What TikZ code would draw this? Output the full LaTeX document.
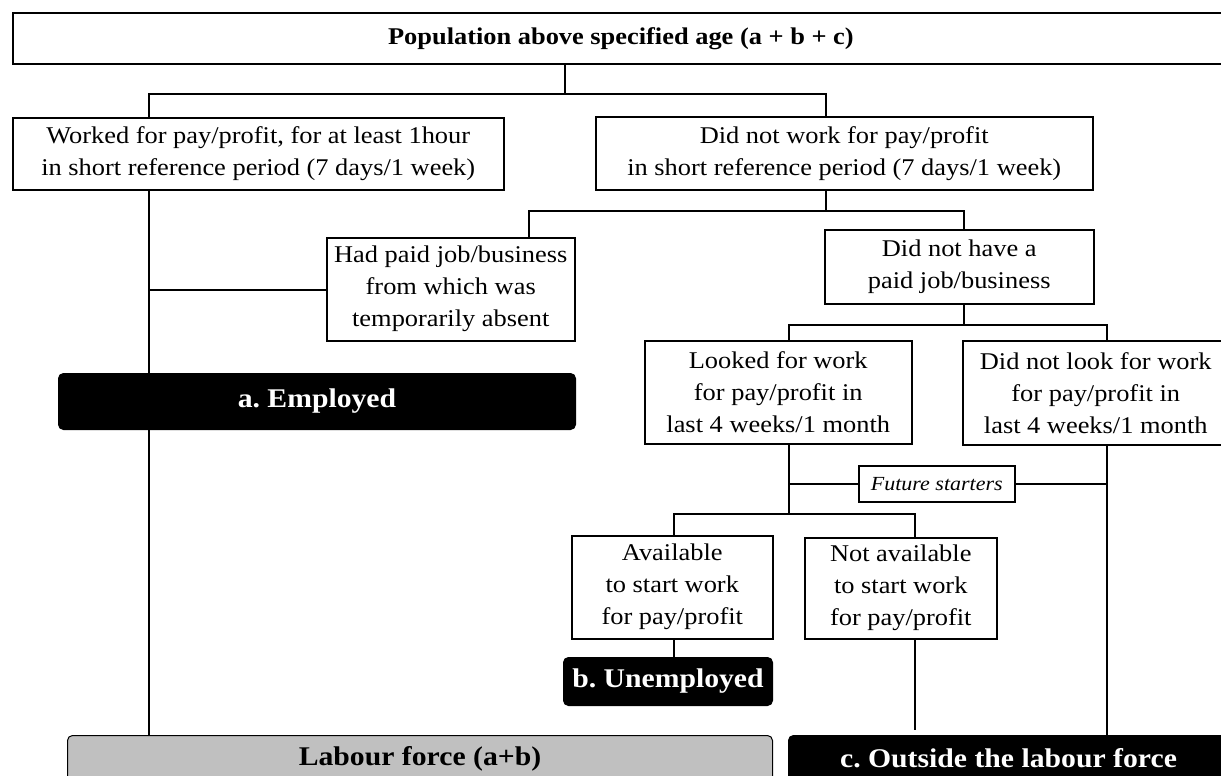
\documentclass[tikz,border=0pt]{standalone}
\usepackage{fontspec}
\setmainfont[FakeStretch=1.1]{Liberation Serif}
\definecolor{lfgray}{RGB}{192,192,192}
\frenchspacing
\begin{document}
\begin{tikzpicture}[x=1pt,y=-1pt,
  box/.style={draw=black, line width=1.5pt, fill=white, inner sep=0pt, align=center, anchor=north west,
    font=\frenchspacing\fontsize{24}{32}\selectfont},
  toplabel/.style={box, line width=1.8pt, font=\frenchspacing\bfseries\fontsize{24}{30}\selectfont},
  blackbox/.style={draw=black, line width=1pt, fill=black, text=white, rounded corners=5pt, inner sep=0pt,
    anchor=north west, font=\frenchspacing\bfseries\fontsize{27}{32}\selectfont},
  graybox/.style={blackbox, fill=lfgray, text=black},
  futbox/.style={box, line width=1.6pt, font=\frenchspacing\itshape\fontsize{20}{24}\selectfont},
  conn/.style={draw=black, line width=2.6pt},
  thinconn/.style={draw=black, line width=2pt}]
\path[use as bounding box] (0,0) rectangle (1221,776);
\clip (0,0) rectangle (1221,776);
\fill[white] (0,0) rectangle (1221,776);
% columns and rows
\coordinate (cA) at (149,0);
\coordinate (cB) at (565,0);
\coordinate (cC) at (826,0);
\coordinate (cD) at (529,0);
\coordinate (cE) at (964,0);
\coordinate (cF) at (789,0);
\coordinate (cG) at (1107,0);
\coordinate (cH) at (674,0);
\coordinate (cI) at (915,0);
\coordinate (r1) at (0,94);
\coordinate (r2) at (0,211);
\coordinate (r3) at (0,325);
\coordinate (r5) at (0,514);
\coordinate (r6) at (0,290);
\coordinate (r7) at (0,735);
\coordinate (r8) at (0,730);
% boxes
\node[toplabel, minimum width=1216pt, minimum height=51pt] (pop) at (12,12) {Population above specified age (a + b + c)};
\node[box, minimum width=491pt, minimum height=72pt] (worked) at (12,117) {Worked for pay/profit, for at least 1hour\\in short reference period (7 days/1 week)};
\node[box, minimum width=497pt, minimum height=73pt] (notwork) at (595,116) {Did not work for pay/profit\\in short reference period (7 days/1 week)};
\node[box, minimum width=248pt, minimum height=103pt] (hadpaid) at (326,237) {Had paid job/business\\from which was\\temporarily absent};
\node[box, minimum width=269pt, minimum height=74pt] (nothave) at (824,229) {Did not have a\\paid job/business};
\node[box, minimum width=267pt, minimum height=103pt] (looked) at (644,340) {Looked for work\\for pay/profit in\\last 4 weeks/1 month};
\node[box, minimum width=266pt, minimum height=104pt] (notlook) at (962,340) {Did not look for work\\for pay/profit in\\last 4 weeks/1 month};
\node[futbox, minimum width=156pt, minimum height=36pt] (future) at (858,465) {Future starters};
\node[box, minimum width=201pt, minimum height=103pt] (avail) at (571,535) {Available\\to start work\\for pay/profit};
\node[box, minimum width=192pt, minimum height=101pt] (notavail) at (804,537) {Not available\\to start work\\for pay/profit};
% connectors
\draw[conn] (pop.south -| cB) -- (r1 -| cB);
\draw[conn] (worked.north -| cA) -- (r1 -| cA) -- (r1 -| cC) -- (notwork.north -| cC);
\draw[conn] (worked.south -| cA) -- (r7 -| cA);
\draw[conn] (r6 -| cA) -- (hadpaid.west |- r6);
\draw[conn] (notwork.south -| cC) -- (r2 -| cC);
\draw[conn] (hadpaid.north -| cD) -- (r2 -| cD) -- (r2 -| cE) -- (nothave.north -| cE);
\draw[conn] (nothave.south -| cE) -- (r3 -| cE);
\draw[conn] (looked.north -| cF) -- (r3 -| cF) -- (r3 -| cG) -- (notlook.north -| cG);
\draw[conn] (looked.south -| cF) -- (r5 -| cF);
\draw[conn] (avail.north -| cH) -- (r5 -| cH) -- (r5 -| cI) -- (notavail.north -| cI);
\draw[thinconn] (future.west -| cF) -- (future.west);
\draw[thinconn] (future.east) -- (future.east -| cG);
\draw[conn] (notlook.south -| cG) -- (r7 -| cG);
\draw[conn] (avail.south -| cH) -- (0,657 -| cH);
\draw[conn] (notavail.south -| cI) -- (r8 -| cI);
% category boxes
\node[blackbox, minimum width=517pt, minimum height=56pt] (employed) at (58,373) {a. Employed};
\node[blackbox, minimum width=209pt, minimum height=48pt] (unemp) at (563,657) {b. Unemployed};
\node[graybox, minimum width=705pt, minimum height=46pt] (labour) at (67,735) {Labour force (a+b)};
\node[blackbox, minimum width=440pt, minimum height=46pt] (outside) at (788,735) {c. Outside the labour force};
\end{tikzpicture}
\end{document}
